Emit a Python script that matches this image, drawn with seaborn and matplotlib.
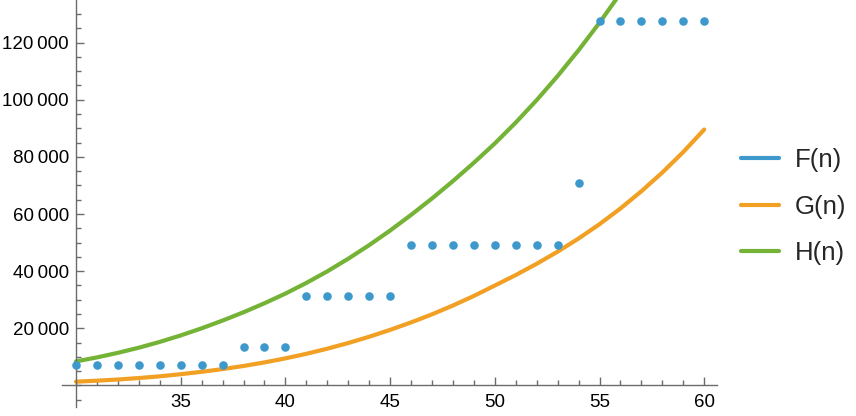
import numpy as np
import pandas as pd
import matplotlib
matplotlib.use('Agg')
import matplotlib.pyplot as plt
import seaborn as sns
from matplotlib.lines import Line2D
from matplotlib.ticker import MultipleLocator, FixedLocator, FuncFormatter

# values
n_vals = list(range(30, 61))

F_vals = [7300, 7300, 7300, 7300, 7300, 7300, 7300, 7300,
          13500, 13500, 13500,
          31200, 31200, 31200, 31200, 31200,
          49000, 49000, 49000, 49000, 49000, 49000, 49000, 49000,
          71000,
          127500, 127500, 127500, 127500, 127500, 127500]

G_vals = [1300, 1650, 2060, 2570, 3180, 3920, 4760, 5710, 6800, 8050,
          9460, 11060, 12850, 14840, 17030, 19440, 22050, 24880, 27970, 31320,
          34960, 38640, 42580, 46820, 51430, 56440, 61950, 67980, 74530, 81720,
          89590]

# H leaves the plot near n = 56
H_n = list(range(30, 58))
H_vals = [8400, 9800, 11400, 13200, 15230, 17500, 19990, 22700, 25610, 28760,
          32140, 35880, 39930, 44350, 49110, 54220, 59690, 65440, 71530, 77960,
          84710, 92030, 99890, 108330, 117350, 126990, 137290, 148290]

labels = ['F(n)', 'G(n)', 'H(n)']
colors = ['#3D99CC', '#F2A024', '#74B336']

dfF = pd.DataFrame({'n': n_vals, 'v': F_vals})
dfG = pd.DataFrame({'n': n_vals, 'v': G_vals})
dfH = pd.DataFrame({'n': H_n, 'v': H_vals})

sns.set_style('white')
plt.rcParams['font.family'] = ['Liberation Sans', 'DejaVu Sans']

fig = plt.figure(figsize=(8.56, 4.16), dpi=100)
ax = fig.add_axes([62 / 856, 1 - 406.7 / 416, 655 / 856, 406.7 / 416])

sns.lineplot(data=dfG, x='n', y='v', color=colors[1], lw=3, ax=ax, zorder=2)
sns.lineplot(data=dfH, x='n', y='v', color=colors[2], lw=3, ax=ax, zorder=2)
sns.scatterplot(data=dfF, x='n', y='v', color=colors[0], s=38, linewidth=0,
                ax=ax, zorder=3, clip_on=False)

ax.set_xlim(29.33, 60.61)
ax.set_ylim(-7460, 134930)
ax.set_xlabel('')
ax.set_ylabel('')

# mathematica style axes crossing at (30, 0)
axcol = '#6b6b6b'
for s in ['top', 'right']:
    ax.spines[s].set_visible(False)
ax.spines['left'].set_position(('data', 30))
ax.spines['bottom'].set_position(('data', 0))
for s in ['left', 'bottom']:
    ax.spines[s].set_color(axcol)
    ax.spines[s].set_linewidth(1.0)

ax.xaxis.set_major_locator(FixedLocator([35, 40, 45, 50, 55, 60]))
ax.xaxis.set_minor_locator(MultipleLocator(1))
ax.yaxis.set_major_locator(FixedLocator([20000, 40000, 60000, 80000, 100000, 120000]))
ax.yaxis.set_minor_locator(MultipleLocator(5000))
ax.yaxis.set_major_formatter(FuncFormatter(
    lambda v, p: f'{int(v):,}'.replace(',', '\u2009')))

ax.tick_params(which='both', direction='in', color=axcol, width=1,
               bottom=True, left=True, labelsize=13.5, labelcolor='black')
ax.tick_params(which='major', length=6)
ax.tick_params(which='minor', length=3.5)
ax.tick_params(axis='x', which='major', pad=6)
ax.tick_params(axis='y', which='major', pad=5)

handles = [Line2D([], [], color=c, lw=3) for c in colors]
fig.legend(handles, labels, loc='center left', bbox_to_anchor=(741 / 856, 0.503),
           frameon=False, fontsize=18.5, handlelength=1.48, handletextpad=0.62,
           labelspacing=0.875, borderpad=0, borderaxespad=0)

plt.savefig('out.png', dpi=100)
